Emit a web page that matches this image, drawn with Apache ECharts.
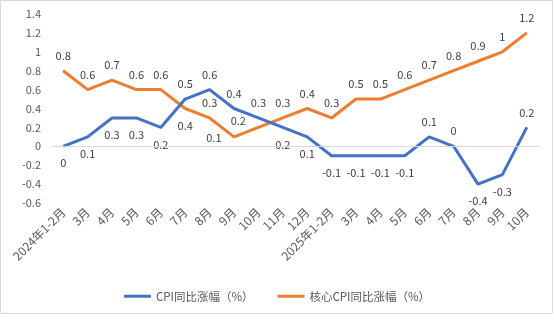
<!DOCTYPE html>
<html><head><meta charset="utf-8">
<script src="https://cdn.jsdelivr.net/npm/echarts@6/dist/echarts.min.js"></script>
<style>html,body{margin:0;padding:0;background:#fff}#c{width:554px;height:329px}</style>
</head><body><div id="c"></div>
<script>
const categories = ['2024年1-2月','3月','4月','5月','6月','7月','8月','9月','10月','11月','12月','2025年1-2月','3月','4月','5月','6月','7月','8月','9月','10月'];
const cpi = [0,0.1,0.3,0.3,0.2,0.5,0.6,0.4,0.3,0.2,0.1,-0.1,-0.1,-0.1,-0.1,0.1,0,-0.4,-0.3,0.2];
const core = [0.8,0.6,0.7,0.6,0.6,0.4,0.3,0.1,0.2,0.3,0.4,0.3,0.5,0.5,0.6,0.7,0.8,0.9,1,1.2];
const yTicks = {min:-0.6, max:1.4, interval:0.2};
const seriesNames = ['CPI同比涨幅（%）','核心CPI同比涨幅（%）'];

const FONT = '"Noto Sans CJK SC", "Noto Sans", sans-serif';
const cpiTop = new Set([5,6,7,8,15,16,19]);
const cpiData = cpi.map((v,i)=>({value:v, label: cpiTop.has(i)?{position:'top',distance:9}:{position:'bottom',distance:11}}));
const coreData = core.map((v,i)=>{
  if(i===5) return {value:v,label:{position:'bottom',distance:11}};
  if(i===7) return {value:v,label:{position:'left',distance:12,offset:[0,1]}};
  if(i===8) return {value:v,label:{position:'left',distance:12,offset:[0,-7]}};
  return {value:v,label:{position:'top',distance:9}};
});

const chart = echarts.init(document.getElementById('c'), null, {renderer:'canvas'});
chart.setOption({
  animation:false,
  textStyle:{fontFamily:FONT},
  graphic:[{type:'rect',shape:{x:0.5,y:0.5,width:552,height:313},style:{fill:'none',stroke:'#d9d9d9',lineWidth:1},silent:true}],
  grid:{left:51,right:15,top:14,bottom:126},
  legend:{
    bottom:22, left:'center', itemGap:24, itemWidth:27, itemHeight:3,
    icon:'rect',
    textStyle:{fontSize:11.5,color:'#595959',fontFamily:FONT},
    data:seriesNames
  },
  xAxis:{
    type:'category', data:categories, boundaryGap:true,
    axisLine:{show:false}, axisTick:{show:false},
    axisLabel:{rotate:45, fontSize:12, color:'#595959', margin:7, interval:0, fontFamily:FONT}
  },
  yAxis:{
    type:'value', min:yTicks.min, max:yTicks.max, interval:yTicks.interval,
    axisLine:{show:false}, axisTick:{show:false}, splitLine:{show:false},
    axisLabel:{fontSize:11, color:'#595959', margin:10, fontFamily:FONT}
  },
  series:[
    {name:seriesNames[0], type:'line', data:cpiData, symbol:'circle', symbolSize:1,
     lineStyle:{color:'#4472C4',width:3}, itemStyle:{color:'#4472C4'},
     label:{show:true, fontSize:11, color:'#404040', fontFamily:FONT},
     markLine:{silent:true, symbol:'none', label:{show:false}, lineStyle:{color:'#d9d9d9',width:1,type:'solid'}, data:[{yAxis:0}]},
     z:3},
    {name:seriesNames[1], type:'line', data:coreData, symbol:'circle', symbolSize:1,
     lineStyle:{color:'#ED7D31',width:3}, itemStyle:{color:'#ED7D31'},
     label:{show:true, fontSize:11, color:'#404040', fontFamily:FONT},
     z:2}
  ]
});
</script></body></html>
